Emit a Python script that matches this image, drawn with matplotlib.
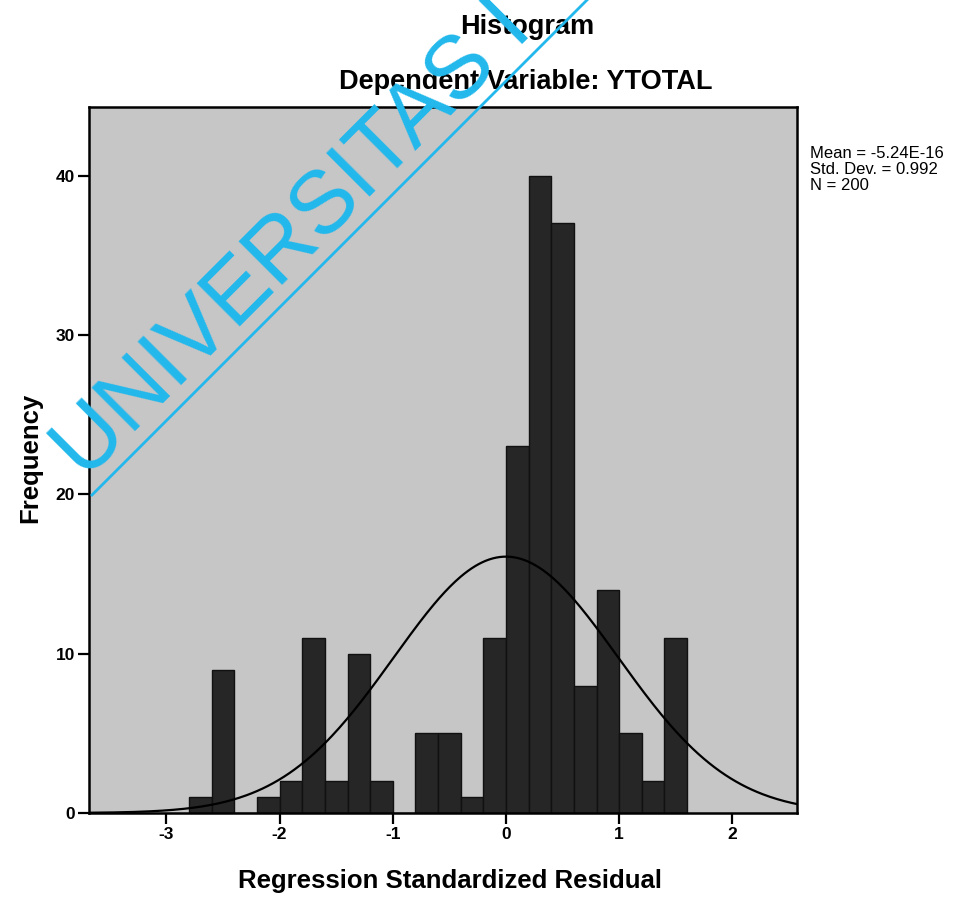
#!/usr/bin/env python3
"""
Recreate the SPSS regression residual histogram for YTOTAL.
"""

import matplotlib

matplotlib.use("Agg")

import matplotlib.pyplot as plt
import numpy as np


FIG_W_PX = 961
FIG_H_PX = 897
DPI = 100

# histogram bins of width 0.2 (left edges) and counts
BIN_LEFT = [
    -2.8, -2.6, -2.4, -2.2, -2.0, -1.8, -1.6, -1.4, -1.2, -1.0, -0.8,
    -0.6, -0.4, -0.2, 0.0, 0.2, 0.4, 0.6, 0.8, 1.0, 1.2, 1.4,
]
FREQUENCY = [
    1, 9, 0, 1, 2, 11, 2, 10, 2, 0, 5,
    5, 1, 11, 23, 40, 37, 8, 14, 5, 2, 11,
]
BIN_WIDTH = 0.2

MEAN = -5.24e-16
STD_DEV = 0.992
N_CASES = 200

X_TICKS = [-3, -2, -1, 0, 1, 2]
Y_TICKS = [0, 10, 20, 30, 40]

FONT = ["Liberation Sans", "DejaVu Sans"]
WATERMARK_BLUE = "#22b8ec"


def px_x(x):
    return x / FIG_W_PX


def px_y(y):
    return 1 - y / FIG_H_PX


def main():
    plt.rcParams["font.family"] = FONT

    fig = plt.figure(figsize=(FIG_W_PX / DPI, FIG_H_PX / DPI), dpi=DPI)
    fig.patch.set_facecolor("white")

    left, right, top, bottom = 89, 797, 107, 813
    ax = fig.add_axes([
        px_x(left),
        px_y(bottom),
        (right - left) / FIG_W_PX,
        (bottom - top) / FIG_H_PX,
    ])
    ax.set_facecolor("#c6c6c6")

    ax.bar(
        BIN_LEFT,
        FREQUENCY,
        width=BIN_WIDTH,
        align="edge",
        color="#262626",
        edgecolor="#111111",
        linewidth=1.0,
        zorder=2,
    )

    # normal curve scaled to counts
    xs = np.linspace(-3.7, 2.6, 400)
    pdf = np.exp(-0.5 * ((xs - MEAN) / STD_DEV) ** 2) / (STD_DEV * np.sqrt(2 * np.pi))
    ax.plot(xs, N_CASES * BIN_WIDTH * pdf, color="black", linewidth=1.6, zorder=3)

    ax.set_xlim(-3.684, 2.571)
    ax.set_ylim(0, 44.3)
    ax.set_xticks(X_TICKS)
    ax.set_yticks(Y_TICKS)
    ax.set_xticklabels([str(t) for t in X_TICKS], fontsize=12.5, fontweight="bold")
    ax.set_yticklabels([str(t) for t in Y_TICKS], fontsize=12.5, fontweight="bold")
    ax.tick_params(axis="both", direction="out", length=8, width=1.6, pad=2)

    for spine in ax.spines.values():
        spine.set_linewidth(1.8)
        spine.set_color("black")

    fig.text(px_x(527), px_y(27), "Histogram", ha="center", va="center",
             fontsize=19.5, fontweight="bold")
    fig.text(px_x(526), px_y(82), "Dependent Variable: YTOTAL", ha="center",
             va="center", fontsize=19.5, fontweight="bold")
    fig.text(px_x(450), px_y(881), "Regression Standardized Residual",
             ha="center", va="center", fontsize=18.5, fontweight="bold")
    fig.text(px_x(30), px_y(458), "Frequency", ha="center", va="center",
             rotation=90, fontsize=18.5, fontweight="bold")

    stats = [
        "Mean = -5.24E-16",
        f"Std. Dev. = {STD_DEV}",
        f"N = {N_CASES}",
    ]
    for i, line in enumerate(stats):
        fig.text(px_x(810), px_y(153 + 16 * i), line, ha="left",
                 va="center", fontsize=12)

    # scanned watermark
    fig.text(px_x(294), px_y(240), "UNIVERSITAS I", ha="center", va="center",
             rotation=45, rotation_mode="anchor", fontsize=64,
             color=WATERMARK_BLUE, zorder=10)
    fig.add_artist(plt.Line2D(
        [px_x(92), px_x(587)],
        [px_y(495), px_y(0)],
        transform=fig.transFigure,
        color=WATERMARK_BLUE,
        linewidth=2,
        zorder=10,
    ))

    fig.savefig("out.png", dpi=DPI)
    plt.close(fig)


if __name__ == "__main__":
    main()
